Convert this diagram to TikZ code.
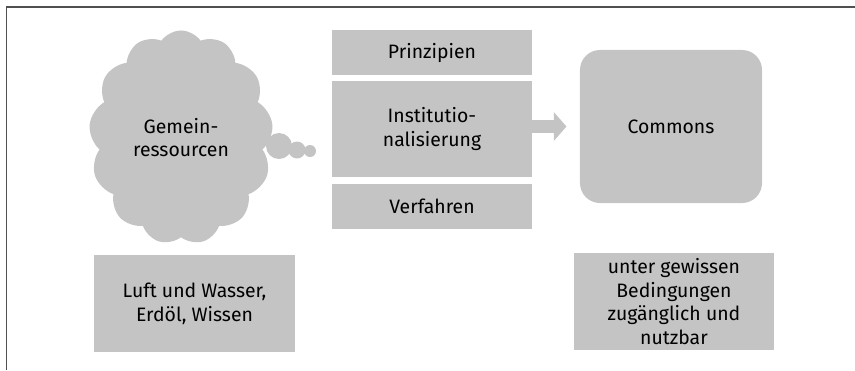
\documentclass[tikz,border=0pt]{standalone}
\usepackage{fontspec}
\setmainfont{Fira Sans}
\usepackage{tikz}
\usetikzlibrary{shapes,arrows.meta,positioning}
\definecolor{boxgray}{RGB}{196,196,196}
\definecolor{framegray}{RGB}{80,80,80}

\begin{document}
\begin{tikzpicture}[x=0.025cm,y=-0.025cm,
    every node/.style={font=\fontsize{13.8}{17}\selectfont, align=center, text=black},
    graybox/.style={fill=boxgray, inner sep=0pt, minimum width=5cm}]
    \useasboundingbox (0,0) rectangle (855,370);
    % frame
    \draw[framegray, line width=1pt] (6.5,370) -- (6.5,7) -- (855,7);

    % cloud
    \node[cloud, cloud puffs=13, cloud puff arc=110, cloud ignores aspect,
          fill=boxgray, inner sep=0pt, minimum width=4.6cm, minimum height=5.35cm]
          (ressourcen) at (181,137.5) {Gemein-\\ressourcen};
    \fill[boxgray] (279,146) circle (13) (297,150) circle (8.5) (310,151) circle (6);

    % middle column
    \node[graybox, minimum height=1.125cm] (prinzipien) at (432,52.5) {Prinzipien};
    \node[graybox, minimum height=2.4cm] (institution) at (432,129) {Institutio-\\nalisierung};
    \node[graybox, minimum height=1.125cm] (verfahren) at (432,206.5) {Verfahren};

    % commons
    \node[graybox, minimum width=4.55cm, minimum height=3.825cm, rounded corners=0.5cm]
          (commons) at (671,126.5) {Commons};
    \draw[boxgray, line width=9.2pt, -{Triangle[length=9pt,width=20pt]}, shorten >=0.33cm]
          (institution.east |- commons.west) -- (commons.west);

    % examples
    \node[graybox, minimum width=5.025cm, minimum height=2.425cm] (beispiele)
          at (194.5,303.5) {Luft und Wasser,\\Erdöl, Wissen};
    \node[graybox, minimum height=2.425cm] (bedingungen)
          at (674,301.5) {unter gewissen\\Bedingungen\\zugänglich und\\nutzbar};
\end{tikzpicture}
\end{document}
